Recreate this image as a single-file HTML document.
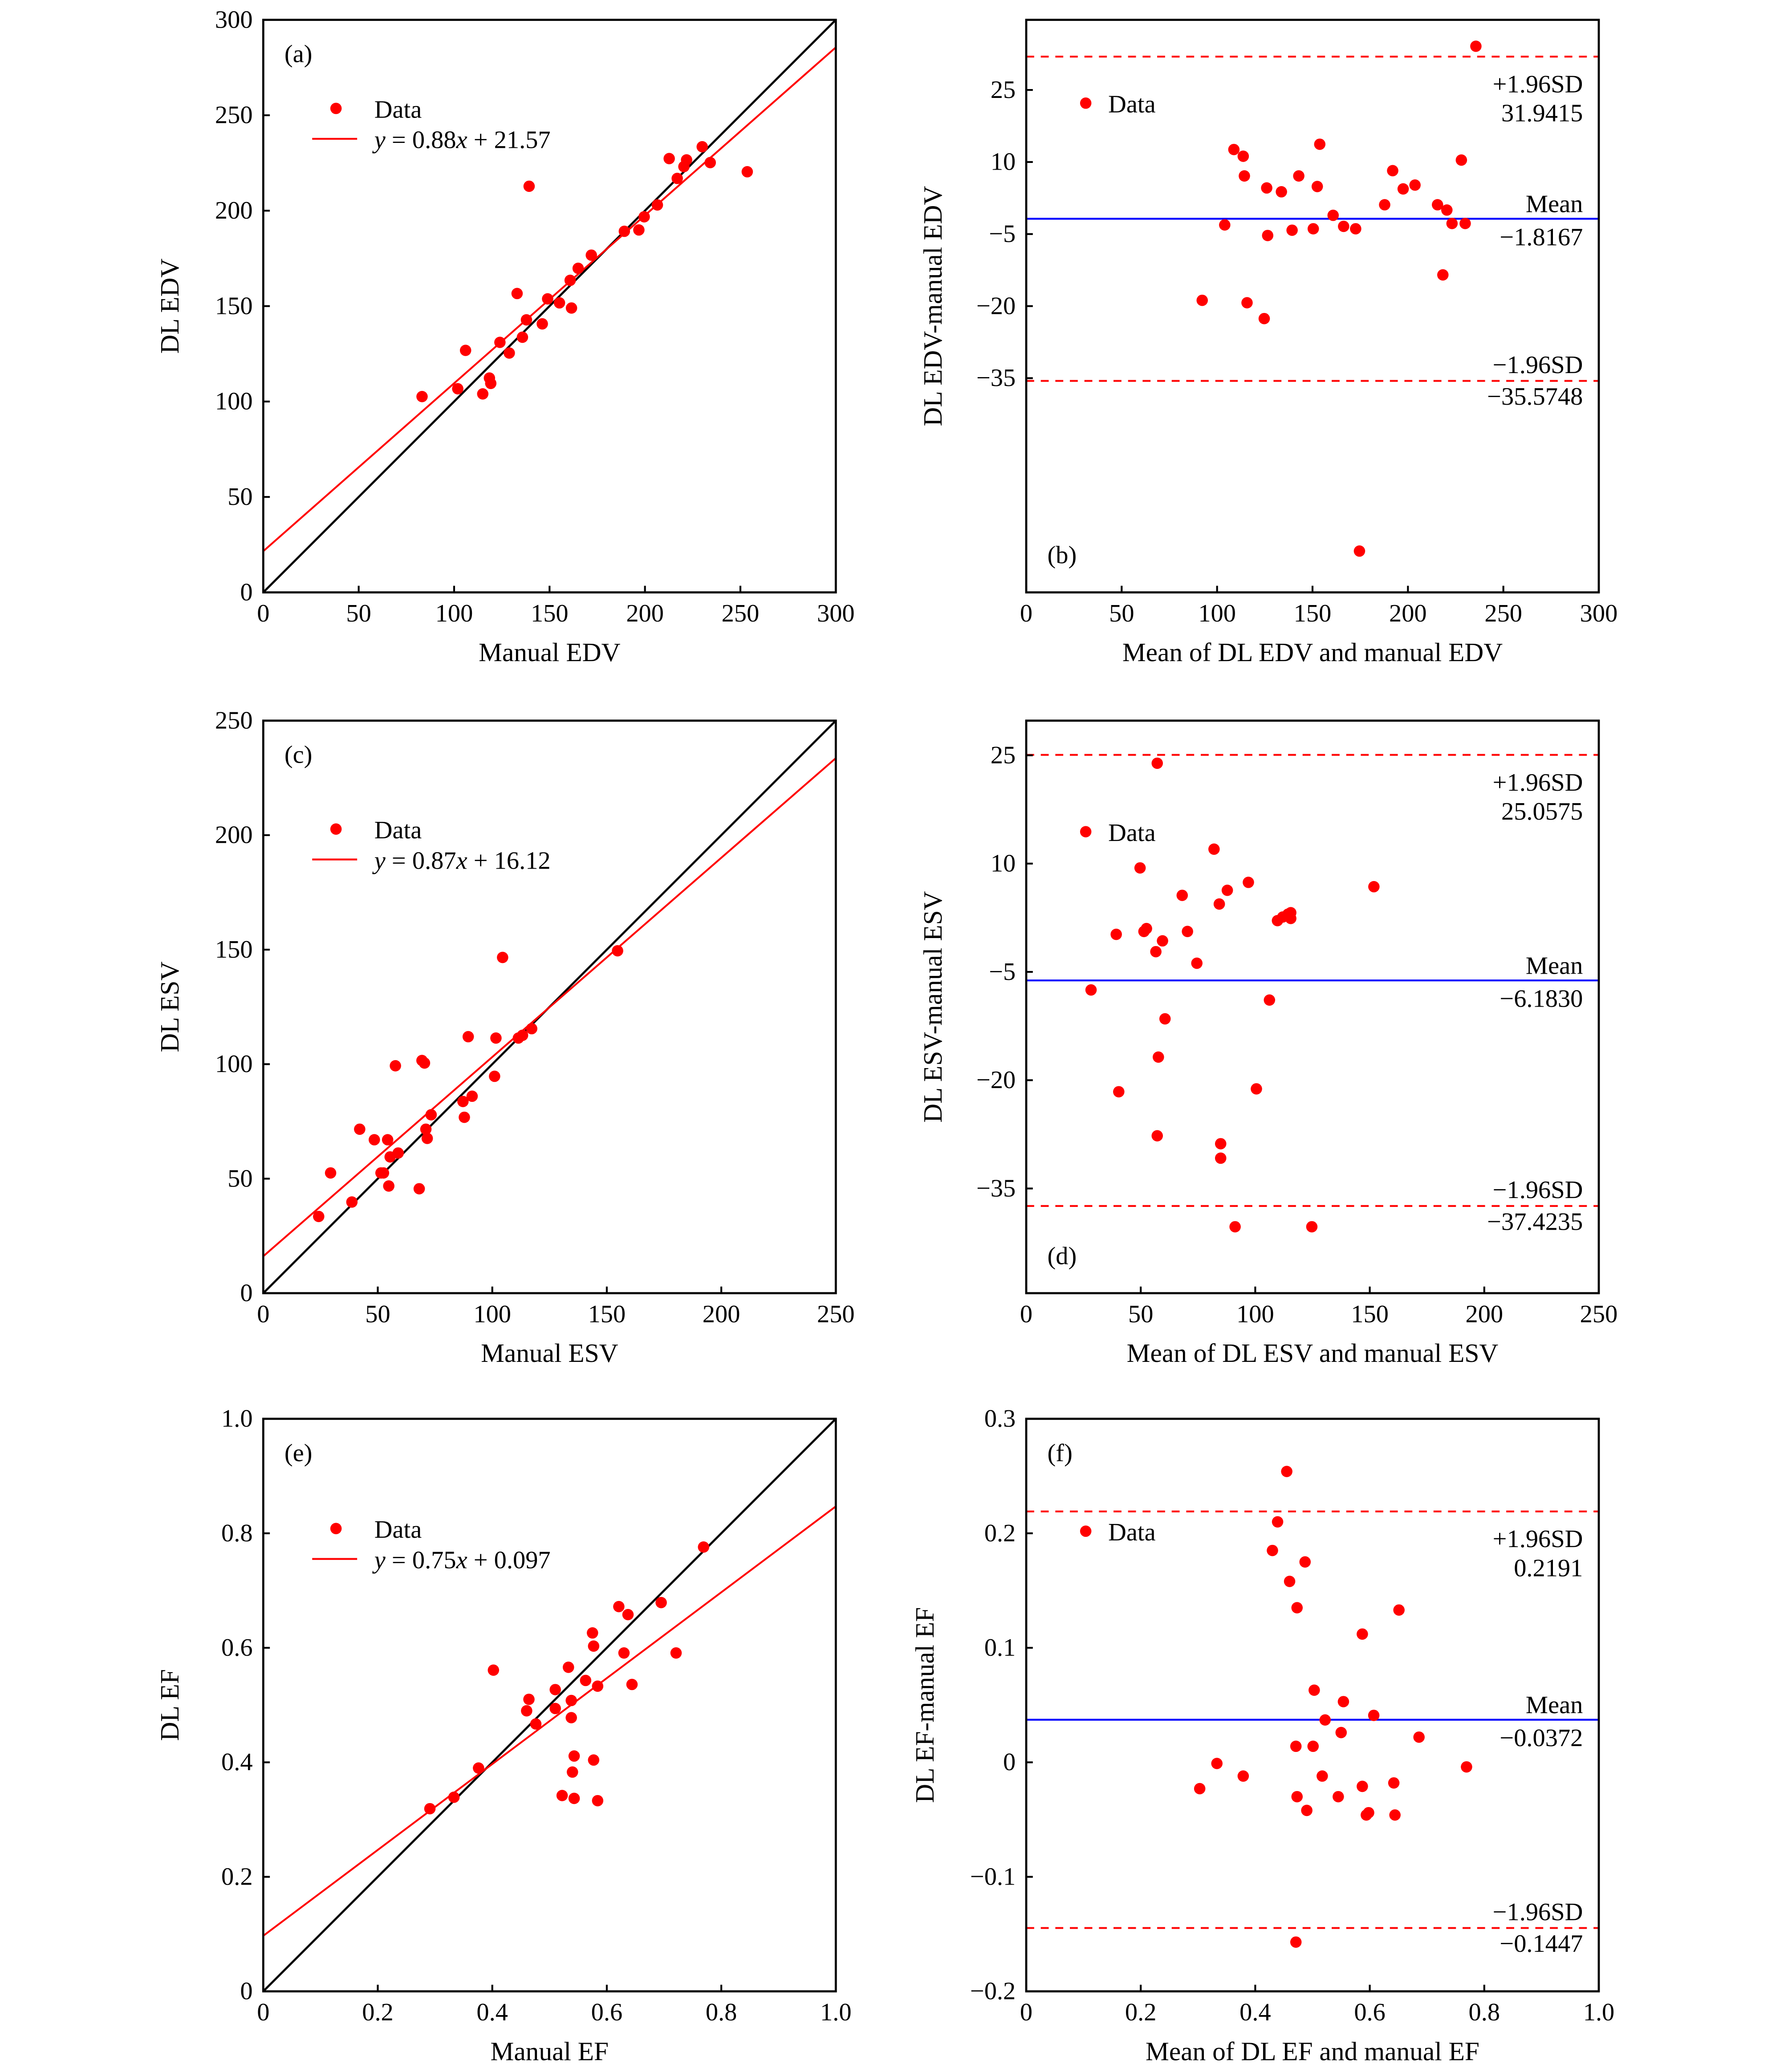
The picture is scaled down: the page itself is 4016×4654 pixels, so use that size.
<!DOCTYPE html>
<html><head><meta charset="utf-8"><style>
html,body{margin:0;padding:0;background:#fff}
svg{display:block}
text{font-family:"Liberation Serif",serif;fill:#000}
</style></head><body>
<svg id="fig" width="4016" height="4654" viewBox="0 0 1352 1567" xmlns="http://www.w3.org/2000/svg"></svg>
<script>
// Panel (a) EDV regression
const aX=[83.2,101.9,106,115,118.5,119.2,124,128.9,133,135.8,137.9,139.3,146.2,149,155.2,160.8,161.5,165,171.9,189.2,196.8,199.6,206.5,212.7,216.9,220.4,221.8,230,234.2,253.6];
const aY=[102.6,106.7,126.8,104,112.3,109.5,131,125.4,156.6,133.7,142.8,212.8,140.7,153.8,151.7,163.5,149,169.8,176.7,189.2,189.9,196.8,203,227.3,216.9,223.1,226.6,233.5,225.2,220.4];
// Panel (b) EDV Bland-Altman
const bX=[92.2,104,108.8,113.7,114.3,115.7,124.7,126,126.5,133.7,139.3,142.8,150.4,152.5,153.8,160.8,166.3,172.6,174.6,187.8,192,197.5,203.7,215.5,218.3,220.4,223.1,228,230,235.6];
const bY=[-18.8,-3.1,12.6,11.2,7.1,-19.3,-22.6,4.6,-5.3,3.8,-4.2,7.1,-3.9,4.9,13.7,-1.1,-3.4,-3.9,-71,1.1,8.2,4.4,5.2,1.1,-13.5,0,-2.8,10.4,-2.8,34.1];
// Panel (c) ESV regression
const cX=[24.2,29.4,38.7,42.1,48.5,51.4,52.5,54.3,54.8,55.4,57.7,58.9,68.1,69.3,70.4,71,71.6,73.3,87.2,87.8,89.5,91.2,101,101.6,104.5,111.4,113.2,117.2,154.7];
const cY=[33.5,52.5,39.8,71.6,67,52.5,52.5,67,46.8,59.5,99.3,61.2,45.6,101.6,100.5,71.6,67.6,77.9,83.7,76.8,112,86,94.7,111.4,146.6,111.4,112.6,115.5,149.5];
// Panel (d) ESV Bland-Altman
const dX=[28.3,39.3,40.4,49.7,51.4,52.5,56.6,57.2,57.7,59.5,60.6,68.1,70.4,74.5,82,84.3,84.9,84.9,87.8,91.2,97,100.5,106.2,109.7,112,114.3,115.5,115.5,124.7,151.8,57.2];
const dY=[-7.5,0.2,-21.6,9.4,0.6,1,-2.2,-27.7,-16.8,-0.7,-11.5,5.6,0.6,-3.8,12,4.4,-28.8,-30.8,6.3,-40.3,7.4,-21.2,-8.9,2.1,2.6,3,3.2,2.4,-40.3,6.8,23.9];
// Panel (e) EF regression
const eX=[0.291,0.333,0.376,0.402,0.46,0.464,0.476,0.51,0.51,0.522,0.533,0.538,0.538,0.54,0.543,0.543,0.563,0.575,0.577,0.577,0.584,0.584,0.621,0.63,0.637,0.644,0.695,0.721,0.769];
const eY=[0.319,0.339,0.39,0.561,0.49,0.51,0.467,0.527,0.494,0.342,0.566,0.478,0.508,0.383,0.411,0.337,0.543,0.626,0.603,0.404,0.333,0.533,0.672,0.591,0.658,0.536,0.679,0.591,0.776];
// Panel (f) EF Bland-Altman
const fX=[0.303,0.333,0.379,0.43,0.439,0.455,0.46,0.471,0.473,0.473,0.487,0.49,0.501,0.503,0.517,0.522,0.545,0.55,0.554,0.587,0.587,0.594,0.598,0.607,0.642,0.644,0.651,0.686,0.769,0.471];
const fY=[-0.023,-0.001,-0.012,0.185,0.21,0.254,0.158,0.014,-0.03,0.135,0.175,-0.042,0.014,0.063,-0.012,0.037,-0.03,0.026,0.053,-0.021,0.112,-0.046,-0.044,0.041,-0.018,-0.046,0.133,0.022,-0.004,-0.157];
const aTicksX=[0,50,100,150,200,250,300], aTicksY=[0,50,100,150,200,250,300];
const bTicksY=[25,10,-5,-20,-35];
const cTicks=[0,50,100,150,200,250];
const dTicksY=[25,10,-5,-20,-35];
const eTicks=[0,0.2,0.4,0.6,0.8,1.0];
const fTicksY=[0.3,0.2,0.1,0,-0.1,-0.2];
const fits={a:[0.88,21.57],c:[0.87,16.12],e:[0.75,0.097]};
const ba={b:[31.9415,-1.8167,-35.5748],d:[25.0575,-6.1830,-37.4235],f:[0.2191,0.0372,-0.1447]};

const NS="http://www.w3.org/2000/svg", svg=document.getElementById('fig');
function mk(tag,attrs,parent,txt){const e=document.createElementNS(NS,tag);for(const k in attrs)e.setAttribute(k,attrs[k]);if(txt!==undefined)e.textContent=txt;(parent||svg).appendChild(e);return e;}
function fmt(v,dec){if(v===0)return '0';let s=dec?v.toFixed(dec):String(v);return s.replace('-','\u2212');}

function panel(o){
  const g=mk('g',{});
  
  
  const L=o.left,T=o.top,W=433,H=433;
  const sx=v=>L+(v-o.x0)/(o.x1-o.x0)*W, sy=v=>T+H-(v-o.y0)/(o.y1-o.y0)*H;
  const cp='cp'+o.id;
  const d=mk('defs',{},g);const c=mk('clipPath',{id:cp},d);mk('rect',{x:L,y:T,width:W,height:H},c);
  const pg=mk('g',{'clip-path':'url(#'+cp+')'},g);
  if(o.identity){const l=mk('line',{x1:sx(o.x0),y1:sy(o.x0),x2:sx(o.x1),y2:sy(o.x1),stroke:'#000','stroke-width':1.6},pg);
    }
  if(o.fit){const [m,b]=o.fit;const l=mk('line',{x1:sx(o.x0),y1:sy(m*o.x0+b),x2:sx(o.x1),y2:sy(m*o.x1+b),stroke:'#f00','stroke-width':1.4},pg);
    }
  if(o.ba){const [u,mn,lo]=o.ba;
    [[u,'upper-limit-line'],[lo,'lower-limit-line']].forEach(([v,n])=>{const l=mk('line',{x1:L,x2:L+W,y1:sy(v),y2:sy(v),stroke:'#f00','stroke-width':1.4,'stroke-dasharray':'6,5'},pg);
      });
    const ml=mk('line',{x1:L,x2:L+W,y1:sy(mn),y2:sy(mn),stroke:'#00f','stroke-width':1.4},pg);
    
    const R=L+W-12,dec=o.dec;
    [['+1.96SD',sy(u)+27],[fmt(u,dec),sy(u)+49],['Mean',sy(mn)-5],[fmt(-Math.abs(o.meanLabel),dec),sy(mn)+20],['\u22121.96SD',sy(lo)-6],[fmt(lo,dec),sy(lo)+18]].forEach(([t,y])=>{
      const tx=mk('text',{x:R,y:y,'text-anchor':'end','font-size':19},g,t);
      });
  }
  for(let i=0;i<o.X.length;i++){const p=mk('circle',{cx:sx(o.X[i]),cy:sy(o.Y[i]),r:4.3,fill:'#f00'},pg);
    }
  const fr=mk('rect',{x:L,y:T,width:W,height:H,fill:'none',stroke:'#000','stroke-width':1.6},g);
  
  o.tx.forEach(v=>{mk('line',{x1:sx(v),x2:sx(v),y1:T+H,y2:T+H-5,stroke:'#000','stroke-width':1.4},g);
    const t=mk('text',{x:sx(v),y:T+H+22,'text-anchor':'middle','font-size':19},g,fmt(v,o.xdec));
    });
  o.ty.forEach(v=>{mk('line',{x1:L,x2:L+5,y1:sy(v),y2:sy(v),stroke:'#000','stroke-width':1.4},g);
    const t=mk('text',{x:L-8,y:sy(v)+6,'text-anchor':'end','font-size':19},g,fmt(v,o.ydec));
    });
  const xt=mk('text',{x:L+W/2,y:T+H+52,'text-anchor':'middle','font-size':20},g,o.xlabel);
  
  const yx=L-(o.ylOff||64),yy=T+H/2;
  const yt=mk('text',{x:yx,y:yy,'text-anchor':'middle','font-size':20,transform:'rotate(-90 '+yx+' '+yy+')'},g,o.ylabel);
  
  const pl=mk('text',{x:L+16,y:o.labelBottom?T+H-22:T+32,'font-size':19},g,'('+o.id+')');
  
  const ly=o.legY;
  const lc=mk('circle',{cx:L+(o.fit?55:45),cy:T+ly,r:4.3,fill:'#f00'},g);
  
  const lt=mk('text',{x:L+(o.fit?84:62),y:T+ly+7,'font-size':19},g,'Data');
  
  if(o.fit){const ll=mk('line',{x1:L+37,x2:L+71,y1:T+ly+23,y2:T+ly+23,stroke:'#f00','stroke-width':1.4},g);
    
    const ft=mk('text',{x:L+84,y:T+ly+30,'font-size':19},g);
    
    mk('tspan',{'font-style':'italic'},ft,'y');mk('tspan',{},ft,' = '+o.fit[0]+'');mk('tspan',{'font-style':'italic'},ft,'x');mk('tspan',{},ft,' + '+o.fit[1]);}
}
panel({id:'a',name:'panel-a-edv-regression',left:199,top:15,x0:0,x1:300,y0:0,y1:300,X:aX,Y:aY,tx:aTicksX,ty:aTicksY,xlabel:'Manual EDV',ylabel:'DL EDV',identity:true,fit:fits.a,legY:67});
panel({id:'b',name:'panel-b-edv-bland-altman',left:776,top:15,x0:0,x1:300,y0:-79.6,y1:39.6,X:bX,Y:bY,tx:aTicksX,ty:bTicksY,xlabel:'Mean of DL EDV and manual EDV',ylabel:'DL EDV-manual EDV',ba:ba.b,meanLabel:1.8167,dec:4,labelBottom:true,legY:63,ylOff:64});
panel({id:'c',name:'panel-c-esv-regression',left:199,top:545,x0:0,x1:250,y0:0,y1:250,X:cX,Y:cY,tx:cTicks,ty:cTicks,xlabel:'Manual ESV',ylabel:'DL ESV',identity:true,fit:fits.c,legY:82});
panel({id:'d',name:'panel-d-esv-bland-altman',left:776,top:545,x0:0,x1:250,y0:-49.5,y1:29.8,X:dX,Y:dY,tx:cTicks,ty:dTicksY,xlabel:'Mean of DL ESV and manual ESV',ylabel:'DL ESV-manual ESV',ba:ba.d,meanLabel:6.1830,dec:4,labelBottom:true,legY:84});
panel({id:'e',name:'panel-e-ef-regression',left:199,top:1073,x0:0,x1:1,y0:0,y1:1,X:eX,Y:eY,tx:eTicks,ty:eTicks,xdec:1,ydec:1,xlabel:'Manual EF',ylabel:'DL EF',identity:true,fit:fits.e,legY:83});
panel({id:'f',name:'panel-f-ef-bland-altman',left:776,top:1073,x0:0,x1:1,y0:-0.2,y1:0.3,X:fX,Y:fY,tx:eTicks,ty:fTicksY,xdec:1,ydec:1,xlabel:'Mean of DL EF and manual EF',ylabel:'DL EF-manual EF',ba:ba.f,meanLabel:0.0372,dec:4,legY:85,ylOff:70});
</script>
</body></html>
